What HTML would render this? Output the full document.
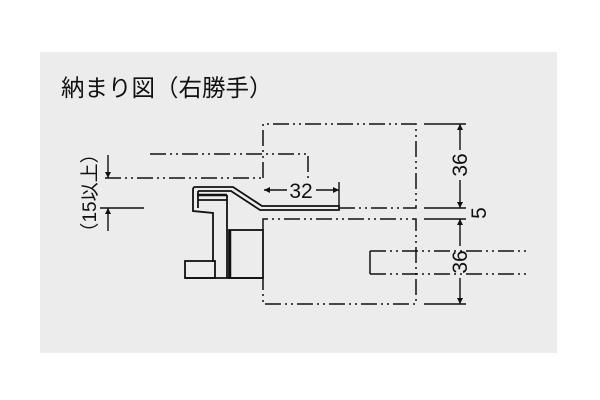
<!DOCTYPE html>
<html><head><meta charset="utf-8"><style>
html,body{margin:0;padding:0;background:#fff;}
svg{display:block;}
</style></head><body>
<svg width="600" height="400" viewBox="0 0 600 400" xmlns="http://www.w3.org/2000/svg">
<defs>
<marker id="a" viewBox="0 0 10 10" refX="10" refY="5" markerWidth="9" markerHeight="6" orient="auto-start-reverse" markerUnits="userSpaceOnUse"><path d="M0,0 L10,5 L0,10 z" fill="#111"/></marker>
</defs>
<rect x="40" y="52" width="517" height="301" fill="#ececec"/>
<text x="61" y="96" font-family="Liberation Sans, Noto Sans CJK JP, sans-serif" font-size="23.5" fill="#111">納まり図（右勝手）</text>
<g fill="none" stroke="#111" stroke-width="1.5" stroke-dasharray="16,4,2,4,2,4">
<path d="M263,178 L263,124 L416,124 L416,208 L340,208"/>
<path d="M263,230 L263,219 L416,219 L416,304 L263,304 L263,278"/>
<path d="M150,154 L308,154 L308,178"/>
<path d="M105,178 L263,178"/>
<path d="M370,251 L527,251"/>
<path d="M370,274 L527,274"/>
</g>
<path d="M370,251 L370,274" stroke="#111" stroke-width="1.5"/>
<g stroke="#111" stroke-width="1.4" fill="none">
<line x1="100" y1="208" x2="144" y2="208"/>
<line x1="108" y1="155" x2="108" y2="178" marker-end="url(#a)"/>
<line x1="108" y1="231" x2="108" y2="208" marker-end="url(#a)"/>
<line x1="339" y1="182" x2="339" y2="206"/>
<line x1="264" y1="190" x2="287" y2="190" marker-start="url(#a)"/>
<line x1="316" y1="190" x2="339" y2="190" marker-end="url(#a)"/>
<line x1="424" y1="124" x2="466" y2="124"/>
<line x1="424" y1="208" x2="466" y2="208"/>
<line x1="424" y1="219" x2="466" y2="219"/>
<line x1="424" y1="304" x2="466" y2="304"/>
<line x1="460" y1="124" x2="460" y2="150" marker-start="url(#a)"/>
<line x1="460" y1="180" x2="460" y2="208" marker-end="url(#a)"/>
<line x1="460" y1="219" x2="460" y2="246" marker-start="url(#a)"/>
<line x1="460" y1="278" x2="460" y2="304" marker-end="url(#a)"/>
</g>
<g font-family="Liberation Sans, Noto Sans CJK JP, sans-serif" fill="#111" font-size="21">
<text x="301" y="198" text-anchor="middle">32</text>
<text transform="translate(467,165) rotate(-90)" text-anchor="middle">36</text>
<text transform="translate(467,262) rotate(-90)" text-anchor="middle">36</text>
<text transform="translate(486,213) rotate(-90)" text-anchor="middle">5</text>
<text transform="translate(96,193) rotate(-90)" text-anchor="middle" font-size="19">（15以上）</text>
</g>
<g fill="none" stroke="#111" stroke-width="1.8">
<path d="M195,187 L233,187 L262,206 L339,206 L339,210 L260,210 L231,191 L198,191"/>
<path d="M195,187 Q193,187 193,190 L193,211 L213,213 L213,262"/>
<path d="M198,191 L198,208"/>
<line x1="197" y1="195" x2="227" y2="195" stroke-width="2.5"/>
<line x1="198" y1="200" x2="227" y2="200"/>
<line x1="227" y1="195" x2="227" y2="278"/>
<line x1="230" y1="230" x2="230" y2="278" stroke-width="2.5"/>
<rect x="229" y="230" width="34" height="48"/>
<rect x="185" y="261" width="30" height="17"/>
<line x1="185" y1="278" x2="263" y2="278"/>
</g>
</svg>
</body></html>
